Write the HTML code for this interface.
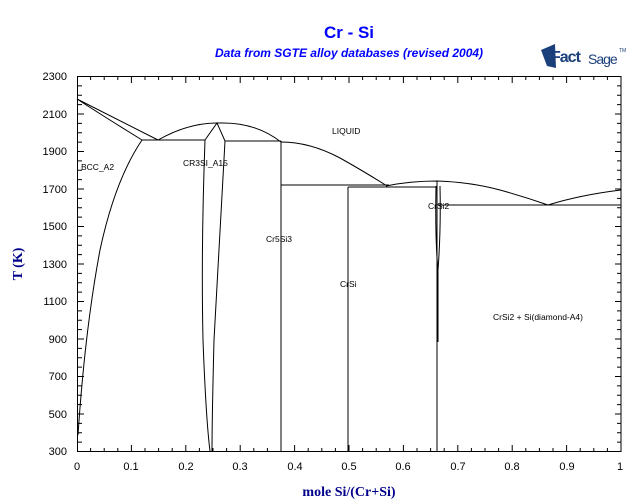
<!DOCTYPE html>
<html><head><style>
body{margin:0;background:#fff;}
svg{display:block;}
text{font-family:"Liberation Sans",sans-serif;}
</style></head><body>
<svg width="640" height="504" viewBox="0 0 640 504" xmlns="http://www.w3.org/2000/svg">
<rect width="640" height="504" fill="#fff"/>
<text x="349" y="38" text-anchor="middle" font-size="17" font-weight="bold" fill="#0000ff">Cr - Si</text>
<text x="349" y="57" text-anchor="middle" font-size="12" font-weight="bold" font-style="italic" fill="#0000ff">Data from SGTE alloy databases (revised 2004)</text>
<g>
<polygon points="541,50 555,44 556,68 547,66" fill="#1a3f7a"/>
<text x="551" y="62" font-size="16" font-weight="bold" fill="#1a3f7a" letter-spacing="-1">Fact</text>
<text x="588" y="64" font-size="14" fill="#1a3f7a" letter-spacing="-1">Sage</text>
<text x="619" y="52" font-size="5" fill="#1a3f7a">TM</text>
</g>
<g fill="none" stroke="#000" stroke-width="1">
<rect x="77.5" y="76.5" width="543.5" height="375"/>
</g>
<g font-size="11" fill="#000" text-anchor="end">
<text x="67" y="80">2300</text><text x="67" y="118">2100</text><text x="67" y="155">1900</text><text x="67" y="193">1700</text><text x="67" y="230">1500</text><text x="67" y="268">1300</text><text x="67" y="305">1100</text><text x="67" y="343">900</text><text x="67" y="380">700</text><text x="67" y="418">500</text><text x="67" y="455">300</text>
</g>
<g font-size="11" fill="#000" text-anchor="middle">
<text x="77" y="470">0</text><text x="131" y="470">0.1</text><text x="186" y="470">0.2</text><text x="240" y="470">0.3</text><text x="295" y="470">0.4</text><text x="349" y="470">0.5</text><text x="403" y="470">0.6</text><text x="458" y="470">0.7</text><text x="512" y="470">0.8</text><text x="567" y="470">0.9</text><text x="620" y="470">1</text>
</g>
<text x="349" y="496" text-anchor="middle" font-size="14" font-weight="bold" fill="#00008b" style="font-family:'Liberation Serif',serif">mole Si/(Cr+Si)</text>
<text x="22" y="264" text-anchor="middle" font-size="14" font-weight="bold" fill="#00008b" transform="rotate(-90 22 264)" style="font-family:'Liberation Serif',serif">T (K)</text>
<g font-size="8.5" fill="#000">
<text x="332" y="134">LIQUID</text>
<text x="81" y="170">BCC_A2</text>
<text x="183" y="166">CR3SI_A15</text>
<text x="266" y="242">Cr5Si3</text>
<text x="340" y="287">CrSi</text>
<text x="428" y="209">CrSi2</text>
<text x="493" y="320">CrSi2 + Si(diamond-A4)</text>
</g>
<g fill="none" stroke="#000" stroke-width="1">
<path d="M77,99 L158,140"/>
<path d="M77,99 Q100,114 142,140"/>
<path d="M142,140 L205,140"/>
<path d="M142,140 Q115,180 100,250 Q85,330 78,435"/>
<path d="M158,140 Q190,122 220,123 Q255,122 281,142"/>
<path d="M281,142 Q310,142 340,158 Q365,172 387,186"/>
<path d="M205,140 L217,123 L225,141"/>
<path d="M205,140 Q201,250 203,340 Q206,420 210,451"/>
<path d="M225,141 Q219,250 214,340 Q212,420 212,451"/>
<path d="M225,141 L281,141"/>
<path d="M281,141 L281,451"/>
<path d="M281,185 L389,185"/>
<path d="M348,187 L436,187"/>
<path d="M348,187 L348,451"/>
<path d="M386,186 Q410,181 437,181 Q470,182 500,190 Q525,197 548,205 Q580,195 621,190"/>
<path d="M438,205 L621,205"/>
<path d="M437,181 L437,451"/>
<path d="M436,186 Q435,240 438,270 L438,342"/>
<path d="M440,186 Q441,230 438,270"/>
</g>
<g stroke="#000" stroke-width="1">
<path d="M78,85.9h4M78,95.3h4M78,104.6h4M78,123.4h4M78,132.8h4M78,142.1h4M78,160.9h4M78,170.3h4M78,179.6h4M78,198.4h4M78,207.8h4M78,217.1h4M78,235.9h4M78,245.3h4M78,254.6h4M78,273.4h4M78,282.8h4M78,292.1h4M78,310.9h4M78,320.3h4M78,329.6h4M78,348.4h4M78,357.8h4M78,367.1h4M78,385.9h4M78,395.3h4M78,404.6h4M78,423.4h4M78,432.8h4M78,442.1h4"/>
<path d="M78,114h6M78,151.5h6M78,189h6M78,226.5h6M78,264h6M78,301.5h6M78,339h6M78,376.5h6M78,414h6"/>
<path d="M617,85.9h4M617,95.3h4M617,104.6h4M617,123.4h4M617,132.8h4M617,142.1h4M617,160.9h4M617,170.3h4M617,179.6h4M617,198.4h4M617,207.8h4M617,217.1h4M617,235.9h4M617,245.3h4M617,254.6h4M617,273.4h4M617,282.8h4M617,292.1h4M617,310.9h4M617,320.3h4M617,329.6h4M617,348.4h4M617,357.8h4M617,367.1h4M617,385.9h4M617,395.3h4M617,404.6h4M617,423.4h4M617,432.8h4M617,442.1h4"/>
<path d="M615,114h6M615,151.5h6M615,189h6M615,226.5h6M615,264h6M615,301.5h6M615,339h6M615,376.5h6M615,414h6"/>
<path d="M90.6,451v-3M104.2,451v-3M117.8,451v-3M145,451v-3M158.6,451v-3M172.2,451v-3M199.4,451v-3M213,451v-3M226.6,451v-3M253.8,451v-3M267.4,451v-3M281,451v-3M308.2,451v-3M321.8,451v-3M335.4,451v-3M362.6,451v-3M376.2,451v-3M389.8,451v-3M417,451v-3M430.6,451v-3M444.2,451v-3M471.4,451v-3M485,451v-3M498.6,451v-3M525.8,451v-3M539.4,451v-3M553,451v-3M580.2,451v-3M593.8,451v-3M607.4,451v-3"/>
<path d="M131.4,451v-6M185.8,451v-6M240.2,451v-6M294.6,451v-6M349,451v-6M403.4,451v-6M457.8,451v-6M512.2,451v-6M566.6,451v-6"/>
<path d="M90.6,77v3M104.2,77v3M117.8,77v3M145,77v3M158.6,77v3M172.2,77v3M199.4,77v3M213,77v3M226.6,77v3M253.8,77v3M267.4,77v3M281,77v3M308.2,77v3M321.8,77v3M335.4,77v3M362.6,77v3M376.2,77v3M389.8,77v3M417,77v3M430.6,77v3M444.2,77v3M471.4,77v3M485,77v3M498.6,77v3M525.8,77v3M539.4,77v3M553,77v3M580.2,77v3M593.8,77v3M607.4,77v3"/>
<path d="M131.4,77v6M185.8,77v6M240.2,77v6M294.6,77v6M349,77v6M403.4,77v6M457.8,77v6M512.2,77v6M566.6,77v6"/>
</g>
</svg>
</body></html>
